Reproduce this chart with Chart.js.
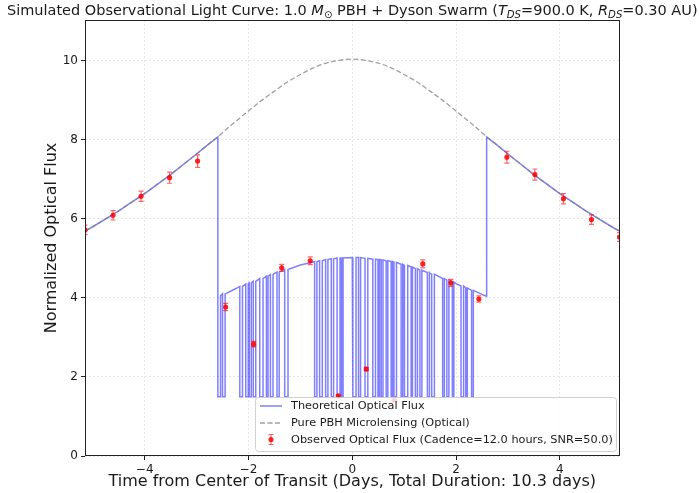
<!DOCTYPE html>
<html>
<head>
<meta charset="utf-8">
<script src="https://cdn.jsdelivr.net/npm/chart.js@4.4.1/dist/chart.umd.min.js"></script>
<style>
  body { margin: 0; background: #fff; }
  #wrap { width: 699px; height: 493px; }
</style>
</head>
<body>
<div id="wrap"><canvas id="lightCurve"></canvas></div>
<script>
// Pure PBH microlensing magnification (days from transit centre, normalized flux)
const pbhTime = [-5.15, -5, -4.75, -4.5, -4.25, -4, -3.75, -3.5, -3.25, -3, -2.75, -2.59, -2.5, -2.25, -2, -1.75, -1.5, -1.25, -1, -0.75, -0.5, -0.25,
  0, 0.25, 0.5, 0.75, 1, 1.25, 1.5, 1.75, 2, 2.25, 2.5, 2.59, 2.75, 3, 3.25, 3.5, 3.75, 4, 4.25, 4.5, 4.75, 5, 5.15];
const pbhFlux = [5.69, 5.80, 6.00, 6.20, 6.42, 6.64, 6.88, 7.12, 7.38, 7.64, 7.91, 8.07, 8.18, 8.46, 8.73, 8.99, 9.23, 9.46, 9.65, 9.82, 9.94, 10.01,
  10.04, 10.01, 9.94, 9.82, 9.65, 9.46, 9.23, 8.99, 8.73, 8.46, 8.18, 8.07, 7.91, 7.64, 7.38, 7.12, 6.88, 6.64, 6.42, 6.20, 6.00, 5.80, 5.69];

// Top level of the theoretical flux while the swarm is in front
const transitStart = -2.59;
const transitEnd = 2.59;
const swarmTime = [-2.59, -2.5, -2.25, -2, -1.75, -1.5, -1.25, -1, -0.75, -0.5, -0.25, 0, 0.25, 0.5, 0.75, 1, 1.25, 1.5, 1.75, 2, 2.25, 2.5, 2.59];
const swarmFlux = [4.04, 4.09, 4.23, 4.36, 4.49, 4.62, 4.73, 4.83, 4.91, 4.97, 5.01, 5.02, 5.01, 4.97, 4.91, 4.83, 4.73, 4.62, 4.49, 4.36, 4.23, 4.09, 4.04];

// Occultations by individual swarm elements
const dipFloor = 1.5;
const dipStart = [-2.59, -2.500, -2.167, -2.052, -1.985, -1.908, -1.783, -1.654, -1.577, -1.450, -1.302,
  -0.725, -0.629, -0.513, -0.404, -0.292, -0.206, 0.012, 0.121, 0.246, 0.396, 0.496, 0.558, 0.654, 0.750, 0.804,
  0.942, 1.006, 1.135, 1.217, 1.304, 1.448, 1.531, 1.742, 1.823, 1.929, 2.096, 2.188, 2.300];
const dipEnd = [-2.538, -2.450, -2.115, -2.008, -1.946, -1.860, -1.719, -1.623, -1.527, -1.408, -1.238,
  -0.681, -0.577, -0.469, -0.360, -0.235, -0.177, 0.073, 0.160, 0.300, 0.448, 0.525, 0.592, 0.685, 0.775, 0.852,
  0.973, 1.069, 1.160, 1.256, 1.342, 1.487, 1.583, 1.775, 1.862, 1.958, 2.146, 2.217, 2.333];
const dipTop = [4.05, 4.10, 4.29, 4.35, 4.38, 4.42, 4.49, 4.55, 4.59, 4.65, 4.72,
  4.92, 4.94, 4.97, 4.99, 5.01, 5.01, 5.02, 5.02, 5.00, 4.98, 4.97, 4.96, 4.94, 4.92, 4.90,
  4.85, 4.82, 4.78, 4.74, 4.70, 4.64, 4.60, 4.49, 4.45, 4.40, 4.30, 4.25, 4.19];

// Observed samples, 12 h cadence
const obsTime = [-5.15, -4.61, -4.07, -3.52, -2.98, -2.44, -1.90, -1.36, -0.81, -0.27, 0.27, 0.81, 1.36, 1.90, 2.44, 2.98, 3.52, 4.07, 4.61, 5.15];
const obsFlux = [5.72, 6.09, 6.57, 7.04, 7.46, 3.77, 2.83, 4.76, 4.94, 1.52, 2.20, 1.41, 4.86, 4.38, 3.97, 7.56, 7.12, 6.51, 5.98, 5.54];
const obsErr = [0.12, 0.12, 0.13, 0.14, 0.16, 0.09, 0.07, 0.09, 0.10, 0.03, 0.04, 0.03, 0.10, 0.09, 0.08, 0.15, 0.14, 0.13, 0.12, 0.11];

const xTicks = [-4, -2, 0, 2, 4];
const yTicks = [0, 2, 4, 6, 8, 10];

const FONT = '"DejaVu Sans", Verdana, sans-serif';
const INK = '#1a1a1a';

function buildTheory() {
  const pts = [];
  pbhTime.forEach((t, i) => { if (t <= transitStart) pts.push({ x: t, y: pbhFlux[i] }); });
  const items = [];
  swarmTime.forEach((t, i) => {
    const covered = dipStart.some((s, k) => t >= s && t <= dipEnd[k]);
    if (!covered) items.push({ x: t, pts: [{ x: t, y: swarmFlux[i] }] });
  });
  dipStart.forEach((s, k) => {
    items.push({ x: s, pts: [
      { x: s, y: dipTop[k] }, { x: s, y: dipFloor },
      { x: dipEnd[k], y: dipFloor }, { x: dipEnd[k], y: dipTop[k] }
    ] });
  });
  items.sort((a, b) => a.x - b.x);
  items.forEach(it => pts.push(...it.pts));
  pbhTime.forEach((t, i) => { if (t >= transitEnd) pts.push({ x: t, y: pbhFlux[i] }); });
  return pts;
}

const theoryColor = 'rgba(0, 0, 255, 0.5)';
const pbhColor = 'rgba(128, 128, 128, 0.75)';
const obsColor = 'rgba(255, 0, 0, 0.85)';
const errColor = 'rgba(255, 0, 0, 0.6)';

const titleParts = [
  { text: 'Simulated Observational Light Curve: 1.0 ' },
  { text: 'M', italic: true },
  { text: '\u2299', sub: true },
  { text: ' PBH + Dyson Swarm (' },
  { text: 'T', italic: true },
  { text: 'DS', italic: true, sub: true },
  { text: '=900.0 K, ' },
  { text: 'R', italic: true },
  { text: 'DS', italic: true, sub: true },
  { text: '=0.30 AU)' }
];

function partFont(p, size) {
  const s = p.sub ? size * 0.7 : size;
  return (p.italic ? 'italic ' : '') + s + 'px ' + FONT;
}

function drawErrorBar(ctx, x, yTop, yBot, cap) {
  ctx.beginPath();
  ctx.moveTo(x, yTop); ctx.lineTo(x, yBot);
  ctx.moveTo(x - cap, yTop); ctx.lineTo(x + cap, yTop);
  ctx.moveTo(x - cap, yBot); ctx.lineTo(x + cap, yBot);
  ctx.stroke();
}

const decorations = {
  id: 'decorations',
  beforeDatasetDraw(chart, args) {
    if (args.index !== 2) return;
    const { ctx, chartArea: a, scales: { x, y } } = chart;
    ctx.save();
    ctx.beginPath();
    ctx.rect(a.left, a.top, a.right - a.left, a.bottom - a.top);
    ctx.clip();
    ctx.strokeStyle = errColor;
    ctx.lineWidth = 1.2;
    obsTime.forEach((t, i) => {
      const px = x.getPixelForValue(t);
      drawErrorBar(ctx, px, y.getPixelForValue(obsFlux[i] + obsErr[i]), y.getPixelForValue(obsFlux[i] - obsErr[i]), 2.5);
    });
    ctx.restore();
  },
  afterDraw(chart) {
    const { ctx, chartArea: a } = chart;
    ctx.save();

    // axes frame
    ctx.strokeStyle = '#222';
    ctx.lineWidth = 1;
    ctx.strokeRect(Math.round(a.left) + 0.5, Math.round(a.top) + 0.5, Math.round(a.right - a.left) - 1, Math.round(a.bottom - a.top) - 1);

    // legend
    const lx = 255, ly = 397, lw = 361, lh = 54;
    ctx.beginPath();
    ctx.roundRect(lx + 0.5, ly + 0.5, lw, lh, 3);
    ctx.fillStyle = 'rgba(255, 255, 255, 0.8)';
    ctx.fill();
    ctx.strokeStyle = 'rgba(204, 204, 204, 0.9)';
    ctx.stroke();

    const rows = [ly + 9, ly + 26, ly + 42.5];
    ctx.lineWidth = 1.5;
    ctx.strokeStyle = theoryColor;
    ctx.beginPath(); ctx.moveTo(260, rows[0]); ctx.lineTo(282, rows[0]); ctx.stroke();
    ctx.strokeStyle = pbhColor;
    ctx.setLineDash([5, 2.5]);
    ctx.beginPath(); ctx.moveTo(260, rows[1]); ctx.lineTo(282, rows[1]); ctx.stroke();
    ctx.setLineDash([]);
    ctx.strokeStyle = errColor;
    ctx.lineWidth = 1.2;
    drawErrorBar(ctx, 271, rows[2] - 5, rows[2] + 5, 2.5);
    ctx.fillStyle = obsColor;
    ctx.beginPath(); ctx.arc(271, rows[2], 2.6, 0, Math.PI * 2); ctx.fill();

    ctx.fillStyle = INK;
    ctx.font = '11.3px ' + FONT;
    ctx.textBaseline = 'middle';
    ctx.textAlign = 'left';
    chart.data.datasets.forEach((ds, i) => ctx.fillText(ds.label, 291, rows[i] + 0.5));

    // title with sub/italic parts
    const tSize = 14.5;
    let total = 0;
    titleParts.forEach(p => { ctx.font = partFont(p, tSize); total += ctx.measureText(p.text).width; });
    let tx = (a.left + a.right) / 2 - total / 2;
    ctx.textBaseline = 'alphabetic';
    titleParts.forEach(p => {
      ctx.font = partFont(p, tSize);
      ctx.fillText(p.text, tx, 15 + (p.sub ? 3 : 0));
      tx += ctx.measureText(p.text).width;
    });

    // axis titles
    ctx.font = '16px ' + FONT;
    ctx.textAlign = 'center';
    ctx.textBaseline = 'middle';
    ctx.fillText('Time from Center of Transit (Days, Total Duration: 10.3 days)', (a.left + a.right) / 2, 482);
    ctx.translate(52, (a.top + a.bottom) / 2);
    ctx.rotate(-Math.PI / 2);
    ctx.fillText('Normalized Optical Flux', 0, 0);
    ctx.restore();
  }
};

const tickLabel = v => (v < 0 ? '\u2212' + Math.abs(v) : String(v));

const gridOpts = {
  color: 'rgba(0, 0, 0, 0.12)',
  lineWidth: 0.8,
  drawTicks: true,
  tickLength: 4,
  tickColor: '#222',
  tickWidth: 1
};

new Chart(document.getElementById('lightCurve'), {
  type: 'line',
  data: {
    datasets: [
      {
        label: 'Theoretical Optical Flux',
        data: buildTheory(),
        borderColor: theoryColor,
        borderWidth: 1.5,
        pointRadius: 0,
        tension: 0,
        order: 3
      },
      {
        label: 'Pure PBH Microlensing (Optical)',
        data: pbhTime.map((t, i) => ({ x: t, y: pbhFlux[i] })),
        borderColor: pbhColor,
        borderDash: [5, 2.5],
        borderWidth: 1.3,
        pointRadius: 0,
        cubicInterpolationMode: 'monotone',
        order: 2
      },
      {
        label: 'Observed Optical Flux (Cadence=12.0 hours, SNR=50.0)',
        data: obsTime.map((t, i) => ({ x: t, y: obsFlux[i] })),
        showLine: false,
        pointRadius: 2.6,
        pointBackgroundColor: obsColor,
        pointBorderWidth: 0,
        clip: 0,
        order: 1
      }
    ]
  },
  options: {
    responsive: true,
    maintainAspectRatio: false,
    animation: false,
    events: [],
    layout: { padding: { top: 20, right: 79.5, bottom: 0, left: 0 } },
    plugins: {
      legend: { display: false },
      title: { display: false },
      tooltip: { enabled: false }
    },
    scales: {
      x: {
        type: 'linear',
        min: -5.15,
        max: 5.15,
        afterFit: s => { s.height = 37; },
        afterBuildTicks: s => { s.ticks = xTicks.map(v => ({ value: v })); },
        grid: gridOpts,
        border: { display: false, dash: [2, 2] },
        ticks: { color: INK, padding: 3, maxRotation: 0, font: { family: FONT, size: 12 }, callback: tickLabel }
      },
      y: {
        min: 0,
        max: 11.03,
        afterFit: s => { s.width = 85; },
        afterBuildTicks: s => { s.ticks = yTicks.map(v => ({ value: v })); },
        grid: gridOpts,
        border: { display: false, dash: [2, 2] },
        ticks: { color: INK, padding: 3, font: { family: FONT, size: 12 }, callback: tickLabel }
      }
    }
  },
  plugins: [decorations]
});
</script>
</body>
</html>
